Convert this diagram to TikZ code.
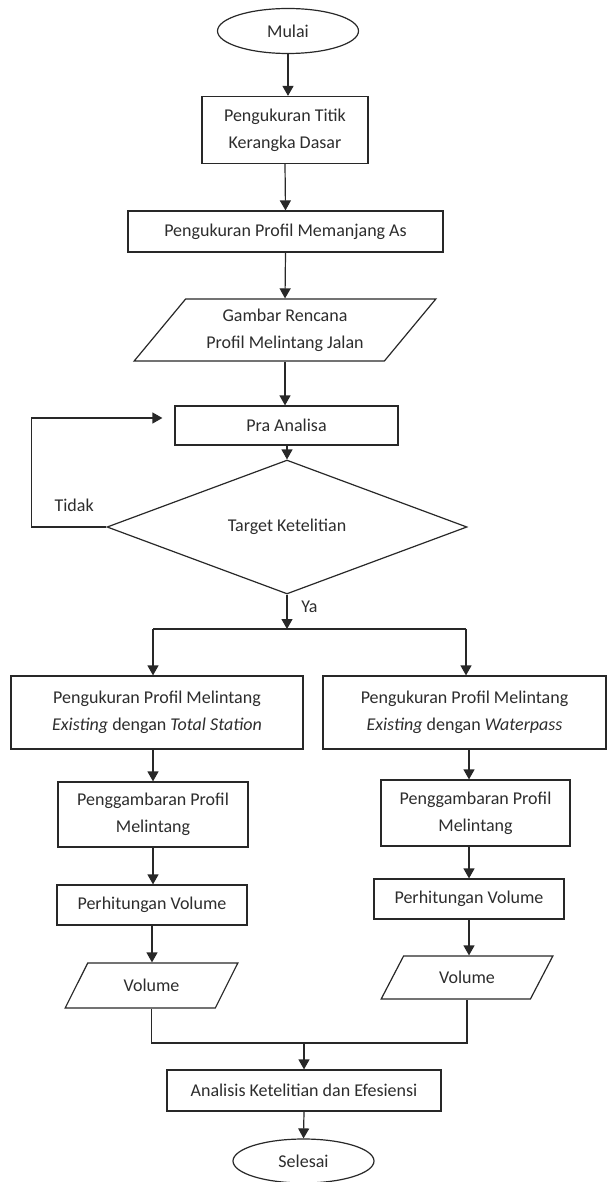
\documentclass[tikz,border=0pt]{standalone}
\usepackage{fontspec}
\setmainfont{Carlito}
\usetikzlibrary{arrows.meta, shapes.geometric, calc}
\definecolor{linegray}{RGB}{40,40,40}
\definecolor{textgray}{RGB}{45,45,45}

\begin{document}
\begin{tikzpicture}[
    x=0.5pt, y=-0.5pt,
    lbl/.style={font=\fontsize{9}{13.3}\selectfont, text=textgray},
    basebox/.style={lbl, draw=linegray, line width=0.6pt, align=center, inner sep=0pt},
    process/.style={basebox, rectangle},
    terminal/.style={basebox, ellipse, minimum width=70.5pt, minimum height=22.5pt},
    io/.style={basebox, trapezium, trapezium stretches=true, trapezium left angle=52, trapezium right angle=128},
    decision/.style={basebox, diamond, minimum width=180pt, minimum height=40.5pt},
    line/.style={draw=linegray, line width=0.6pt},
    arrow/.style={line, -{Triangle[length=5pt, width=5.5pt]}}
]
\useasboundingbox[fill=white] (0,0) rectangle (607,1182);
\fill[white] (0,0) rectangle (607,1182);

\node[terminal] (mulai) at (288,31) {Mulai};
\node[process, minimum width=83pt, minimum height=33.5pt] (titik) at (285,130) {Pengukuran Titik\\Kerangka Dasar};
\node[process, minimum width=157.5pt, minimum height=20.5pt] (memanjang) at (285.5,231.5) {Pengukuran Profil Memanjang As};
\node[io, trapezium left angle=46, trapezium right angle=134, minimum width=151pt, minimum height=31pt] (rencana) at (285,330)
    {Gambar Rencana\\Profil Melintang Jalan};
\node[process, minimum width=111.5pt, minimum height=19.5pt] (pra) at (286.5,425.5) {Pra Analisa};
\node[decision] (target) at (287,527) {Target Ketelitian};

\node[process, minimum width=146pt, minimum height=36.5pt] (ts) at (157,712.5)
    {Pengukuran Profil Melintang\\\textit{Existing} dengan \textit{Total Station}};
\node[process, minimum width=141.5pt, minimum height=36.5pt] (wp) at (464.5,712.5)
    {Pengukuran Profil Melintang\\\textit{Existing} dengan \textit{Waterpass}};
\node[process, minimum width=95pt, minimum height=32.5pt] (gambarL) at (153,814.5) {Penggambaran Profil\\Melintang};
\node[process, minimum width=94.5pt, minimum height=33pt] (gambarR) at (475.5,813) {Penggambaran Profil\\Melintang};
\node[process, minimum width=95pt, minimum height=20pt] (hitungL) at (152,905) {Perhitungan Volume};
\node[process, minimum width=95pt, minimum height=20pt] (hitungR) at (469,899) {Perhitungan Volume};
\node[io, minimum width=86.5pt, minimum height=22.5pt] (volL) at (151.5,985.5) {Volume};
\node[io, minimum width=86pt, minimum height=21.5pt] (volR) at (467,977.5) {Volume};
\node[process, minimum width=137pt, minimum height=20.5pt] (analisis) at (304,1090.5) {Analisis Ketelitian dan Efesiensi};
\node[terminal, minimum height=22pt] (selesai) at (303.5,1161) {Selesai};

\coordinate (split) at (287,629);
\coordinate (splitL) at (153,629);
\coordinate (splitR) at (466,629);
\coordinate (merge) at (304,1043);

\draw[arrow] (mulai.south) -- (mulai.south |- titik.north);
\draw[arrow] (titik.south) -- (memanjang.north);
\draw[arrow] (memanjang.south) -- (rencana.north);
\draw[arrow] (rencana.south) -- (rencana.south |- pra.north);
\draw[arrow] (target.north |- pra.south) -- (target.north);
\draw[arrow, shorten >=6pt] (target.west) -- ++(-75,0) node[lbl, pos=0.43, above=4pt] {Tidak}
    |- ($(pra.west)+(0,-7.5)$);
\draw[arrow] (target.south) -- (split) node[lbl, pos=0.35, right=3.5pt] {Ya};
\draw[line] (splitL) -- (splitR);
\draw[arrow] (splitL) -- (splitL |- ts.north);
\draw[arrow] (splitR) -- (splitR |- wp.north);
\draw[arrow] (gambarL.north |- ts.south) -- (gambarL.north);
\draw[arrow] (gambarL.south) -- (gambarL.south |- hitungL.north);
\draw[arrow] (hitungL.south) -- (hitungL.south |- volL.north);
\draw[arrow] (hitungR.north |- wp.south) -- (hitungR.north |- gambarR.north);
\draw[arrow] (hitungR.north |- gambarR.south) -- (hitungR.north);
\draw[arrow] (hitungR.south) -- (hitungR.south |- volR.north);
\draw[line] (volL.south) -- (volL.south |- merge) -- (volR.south |- merge) -- (volR.south);
\draw[arrow] (merge) -- (analisis.north);
\draw[arrow] (analisis.south) -- (selesai.north);
\end{tikzpicture}
\end{document}
